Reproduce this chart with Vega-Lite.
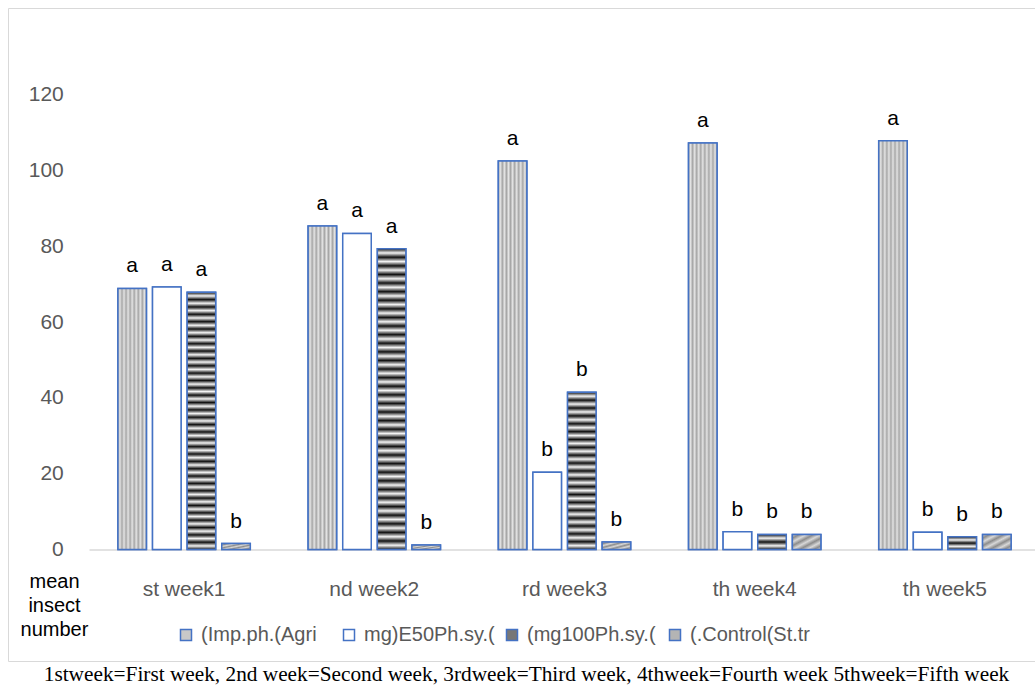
{
  "$schema": "https://vega.github.io/schema/vega-lite/v6.json",
  "width": 1027,
  "height": 653,
  "autosize": {"type": "none"},
  "padding": {"left": 8, "top": 8, "right": 0, "bottom": 27},
  "background": "white",
  "config": {
    "view": {"stroke": "#d9d9d9", "strokeWidth": 1},
    "font": "Liberation Sans"
  },
  "title": {
    "text": "1stweek=First week, 2nd week=Second week, 3rdweek=Third week, 4thweek=Fourth week 5thweek=Fifth week",
    "orient": "bottom",
    "anchor": "middle",
    "font": "Liberation Serif",
    "fontSize": 21.3,
    "fontWeight": "normal",
    "color": "#000000",
    "baseline": "top",
    "offset": 3,
    "dx": 5
  },
  "data": {
    "values": [
      {"week": "st week1", "series": "(Imp.ph.(Agri", "v": 68.9, "letter": "a"},
      {"week": "st week1", "series": "mg)E50Ph.sy.(", "v": 69.3, "letter": "a"},
      {"week": "st week1", "series": "(mg100Ph.sy.(", "v": 67.9, "letter": "a"},
      {"week": "st week1", "series": "(.Control(St.tr", "v": 1.6, "letter": "b"},
      {"week": "nd week2", "series": "(Imp.ph.(Agri", "v": 85.4, "letter": "a"},
      {"week": "nd week2", "series": "mg)E50Ph.sy.(", "v": 83.4, "letter": "a"},
      {"week": "nd week2", "series": "(mg100Ph.sy.(", "v": 79.4, "letter": "a"},
      {"week": "nd week2", "series": "(.Control(St.tr", "v": 1.2, "letter": "b"},
      {"week": "rd week3", "series": "(Imp.ph.(Agri", "v": 102.5, "letter": "a"},
      {"week": "rd week3", "series": "mg)E50Ph.sy.(", "v": 20.4, "letter": "b"},
      {"week": "rd week3", "series": "(mg100Ph.sy.(", "v": 41.5, "letter": "b"},
      {"week": "rd week3", "series": "(.Control(St.tr", "v": 2.0, "letter": "b"},
      {"week": "th week4", "series": "(Imp.ph.(Agri", "v": 107.3, "letter": "a"},
      {"week": "th week4", "series": "mg)E50Ph.sy.(", "v": 4.7, "letter": "b"},
      {"week": "th week4", "series": "(mg100Ph.sy.(", "v": 4.0, "letter": "b"},
      {"week": "th week4", "series": "(.Control(St.tr", "v": 4.0, "letter": "b"},
      {"week": "th week5", "series": "(Imp.ph.(Agri", "v": 107.9, "letter": "a"},
      {"week": "th week5", "series": "mg)E50Ph.sy.(", "v": 4.6, "letter": "b"},
      {"week": "th week5", "series": "(mg100Ph.sy.(", "v": 3.4, "letter": "b"},
      {"week": "th week5", "series": "(.Control(St.tr", "v": 4.0, "letter": "b"}
    ]
  },
  "encoding": {
    "x": {
      "field": "week",
      "type": "nominal",
      "sort": ["st week1", "nd week2", "rd week3", "th week4", "th week5"],
      "scale": {"range": [81, 1032], "paddingInner": 0.304, "paddingOuter": 0.152},
      "axis": {
        "title": null,
        "orient": "bottom",
        "offset": -111.5,
        "labelAngle": 0,
        "ticks": false,
        "domainColor": "#d9d9d9",
        "domainWidth": 1.5,
        "labelPadding": 29,
        "labelFontSize": 21,
        "labelColor": "#595959",
        "labelFont": "Liberation Sans"
      }
    },
    "xOffset": {
      "field": "series",
      "type": "nominal",
      "sort": ["(Imp.ph.(Agri", "mg)E50Ph.sy.(", "(mg100Ph.sy.(", "(.Control(St.tr"],
      "scale": {"paddingInner": 0.176, "paddingOuter": 0}
    },
    "y": {
      "field": "v",
      "type": "quantitative",
      "scale": {"domain": [-29.4, 142.9], "nice": false, "zero": false},
      "axis": {
        "orient": "left",
        "offset": -81,
        "domain": false,
        "ticks": false,
        "grid": false,
        "values": [0, 20, 40, 60, 80, 100, 120],
        "labelPadding": 25.7,
        "labelFontSize": 21,
        "labelColor": "#595959",
        "labelFont": "Liberation Sans",
        "title": ["mean", "insect", "number"],
        "titleAngle": 0,
        "titleAlign": "center",
        "titleBaseline": "top",
        "titleX": -35,
        "titleY": 563,
        "titleFont": "Liberation Sans",
        "titleFontSize": 20,
        "titleFontWeight": "normal",
        "titleColor": "#000000",
        "titleLineHeight": 24
      }
    }
  },
  "layer": [
    {
      "mark": {"type": "bar", "stroke": "#4472c4", "strokeWidth": 1.5},
      "encoding": {
        "color": {
          "field": "series",
          "type": "nominal",
          "sort": ["(Imp.ph.(Agri", "mg)E50Ph.sy.(", "(mg100Ph.sy.(", "(.Control(St.tr"],
          "scale": {
            "domain": ["(Imp.ph.(Agri", "mg)E50Ph.sy.(", "(mg100Ph.sy.(", "(.Control(St.tr"],
            "range": ["#c8c8c8", "#ffffff", "#777777", "#b4b4b4"]
          },
          "legend": {
            "title": null,
            "orient": "none",
            "legendX": 168,
            "legendY": 617,
            "direction": "horizontal",
            "columns": 4,
            "gridAlign": "all",
            "columnPadding": 7,
            "padding": 0,
            "symbolType": "square",
            "symbolSize": 121,
            "symbolStrokeColor": "#4472c4",
            "symbolStrokeWidth": 1.5,
            "labelFontSize": 20,
            "labelColor": "#595959",
            "labelFont": "Liberation Sans",
            "labelLimit": 0,
            "labelOffset": 5
          }
        }
      }
    },
    {
      "mark": {"type": "bar", "stroke": "#4472c4", "strokeWidth": 1.5},
      "encoding": {
        "fill": {
          "condition": [
            {
              "test": "datum.series === '(Imp.ph.(Agri'",
              "value": {
                "gradient": "linear", "x1": 0, "y1": 0, "x2": 1, "y2": 0,
                "stops": [
                  {"offset": 0, "color": "#a6a6a6"}, {"offset": 0.0714, "color": "#e4e4e4"},
                  {"offset": 0.1429, "color": "#a6a6a6"}, {"offset": 0.2143, "color": "#e4e4e4"},
                  {"offset": 0.2857, "color": "#a6a6a6"}, {"offset": 0.3571, "color": "#e4e4e4"},
                  {"offset": 0.4286, "color": "#a6a6a6"}, {"offset": 0.5, "color": "#e4e4e4"},
                  {"offset": 0.5714, "color": "#a6a6a6"}, {"offset": 0.6429, "color": "#e4e4e4"},
                  {"offset": 0.7143, "color": "#a6a6a6"}, {"offset": 0.7857, "color": "#e4e4e4"},
                  {"offset": 0.8571, "color": "#a6a6a6"}, {"offset": 0.9286, "color": "#e4e4e4"},
                  {"offset": 1, "color": "#a6a6a6"}
                ]
              }
            },
            {
              "test": "datum.series === '(mg100Ph.sy.(' && datum.v > 60",
              "value": {
                "gradient": "linear", "x1": 0, "y1": 0, "x2": 0, "y2": 1,
                "stops": [
                  {"offset": 0, "color": "#111111"}, {"offset": 0.0143, "color": "#f4f4f4"},
                  {"offset": 0.0286, "color": "#111111"}, {"offset": 0.0429, "color": "#f4f4f4"},
                  {"offset": 0.0571, "color": "#111111"}, {"offset": 0.0714, "color": "#f4f4f4"},
                  {"offset": 0.0857, "color": "#111111"}, {"offset": 0.1, "color": "#f4f4f4"},
                  {"offset": 0.1143, "color": "#111111"}, {"offset": 0.1286, "color": "#f4f4f4"},
                  {"offset": 0.1429, "color": "#111111"}, {"offset": 0.1571, "color": "#f4f4f4"},
                  {"offset": 0.1714, "color": "#111111"}, {"offset": 0.1857, "color": "#f4f4f4"},
                  {"offset": 0.2, "color": "#111111"}, {"offset": 0.2143, "color": "#f4f4f4"},
                  {"offset": 0.2286, "color": "#111111"}, {"offset": 0.2429, "color": "#f4f4f4"},
                  {"offset": 0.2571, "color": "#111111"}, {"offset": 0.2714, "color": "#f4f4f4"},
                  {"offset": 0.2857, "color": "#111111"}, {"offset": 0.3, "color": "#f4f4f4"},
                  {"offset": 0.3143, "color": "#111111"}, {"offset": 0.3286, "color": "#f4f4f4"},
                  {"offset": 0.3429, "color": "#111111"}, {"offset": 0.3571, "color": "#f4f4f4"},
                  {"offset": 0.3714, "color": "#111111"}, {"offset": 0.3857, "color": "#f4f4f4"},
                  {"offset": 0.4, "color": "#111111"}, {"offset": 0.4143, "color": "#f4f4f4"},
                  {"offset": 0.4286, "color": "#111111"}, {"offset": 0.4429, "color": "#f4f4f4"},
                  {"offset": 0.4571, "color": "#111111"}, {"offset": 0.4714, "color": "#f4f4f4"},
                  {"offset": 0.4857, "color": "#111111"}, {"offset": 0.5, "color": "#f4f4f4"},
                  {"offset": 0.5143, "color": "#111111"}, {"offset": 0.5286, "color": "#f4f4f4"},
                  {"offset": 0.5429, "color": "#111111"}, {"offset": 0.5571, "color": "#f4f4f4"},
                  {"offset": 0.5714, "color": "#111111"}, {"offset": 0.5857, "color": "#f4f4f4"},
                  {"offset": 0.6, "color": "#111111"}, {"offset": 0.6143, "color": "#f4f4f4"},
                  {"offset": 0.6286, "color": "#111111"}, {"offset": 0.6429, "color": "#f4f4f4"},
                  {"offset": 0.6571, "color": "#111111"}, {"offset": 0.6714, "color": "#f4f4f4"},
                  {"offset": 0.6857, "color": "#111111"}, {"offset": 0.7, "color": "#f4f4f4"},
                  {"offset": 0.7143, "color": "#111111"}, {"offset": 0.7286, "color": "#f4f4f4"},
                  {"offset": 0.7429, "color": "#111111"}, {"offset": 0.7571, "color": "#f4f4f4"},
                  {"offset": 0.7714, "color": "#111111"}, {"offset": 0.7857, "color": "#f4f4f4"},
                  {"offset": 0.8, "color": "#111111"}, {"offset": 0.8143, "color": "#f4f4f4"},
                  {"offset": 0.8286, "color": "#111111"}, {"offset": 0.8429, "color": "#f4f4f4"},
                  {"offset": 0.8571, "color": "#111111"}, {"offset": 0.8714, "color": "#f4f4f4"},
                  {"offset": 0.8857, "color": "#111111"}, {"offset": 0.9, "color": "#f4f4f4"},
                  {"offset": 0.9143, "color": "#111111"}, {"offset": 0.9286, "color": "#f4f4f4"},
                  {"offset": 0.9429, "color": "#111111"}, {"offset": 0.9571, "color": "#f4f4f4"},
                  {"offset": 0.9714, "color": "#111111"}, {"offset": 0.9857, "color": "#f4f4f4"},
                  {"offset": 1, "color": "#111111"}
                ]
              }
            },
            {
              "test": "datum.series === '(mg100Ph.sy.(' && datum.v > 20",
              "value": {
                "gradient": "linear", "x1": 0, "y1": 0, "x2": 0, "y2": 1,
                "stops": [
                  {"offset": 0, "color": "#111111"}, {"offset": 0.025, "color": "#f4f4f4"},
                  {"offset": 0.05, "color": "#111111"}, {"offset": 0.075, "color": "#f4f4f4"},
                  {"offset": 0.1, "color": "#111111"}, {"offset": 0.125, "color": "#f4f4f4"},
                  {"offset": 0.15, "color": "#111111"}, {"offset": 0.175, "color": "#f4f4f4"},
                  {"offset": 0.2, "color": "#111111"}, {"offset": 0.225, "color": "#f4f4f4"},
                  {"offset": 0.25, "color": "#111111"}, {"offset": 0.275, "color": "#f4f4f4"},
                  {"offset": 0.3, "color": "#111111"}, {"offset": 0.325, "color": "#f4f4f4"},
                  {"offset": 0.35, "color": "#111111"}, {"offset": 0.375, "color": "#f4f4f4"},
                  {"offset": 0.4, "color": "#111111"}, {"offset": 0.425, "color": "#f4f4f4"},
                  {"offset": 0.45, "color": "#111111"}, {"offset": 0.475, "color": "#f4f4f4"},
                  {"offset": 0.5, "color": "#111111"}, {"offset": 0.525, "color": "#f4f4f4"},
                  {"offset": 0.55, "color": "#111111"}, {"offset": 0.575, "color": "#f4f4f4"},
                  {"offset": 0.6, "color": "#111111"}, {"offset": 0.625, "color": "#f4f4f4"},
                  {"offset": 0.65, "color": "#111111"}, {"offset": 0.675, "color": "#f4f4f4"},
                  {"offset": 0.7, "color": "#111111"}, {"offset": 0.725, "color": "#f4f4f4"},
                  {"offset": 0.75, "color": "#111111"}, {"offset": 0.775, "color": "#f4f4f4"},
                  {"offset": 0.8, "color": "#111111"}, {"offset": 0.825, "color": "#f4f4f4"},
                  {"offset": 0.85, "color": "#111111"}, {"offset": 0.875, "color": "#f4f4f4"},
                  {"offset": 0.9, "color": "#111111"}, {"offset": 0.925, "color": "#f4f4f4"},
                  {"offset": 0.95, "color": "#111111"}, {"offset": 0.975, "color": "#f4f4f4"},
                  {"offset": 1, "color": "#111111"}
                ]
              }
            },
            {
              "test": "datum.series === '(mg100Ph.sy.('",
              "value": {
                "gradient": "linear", "x1": 0, "y1": 0, "x2": 0, "y2": 1,
                "stops": [
                  {"offset": 0, "color": "#111111"}, {"offset": 0.25, "color": "#f4f4f4"},
                  {"offset": 0.5, "color": "#111111"}, {"offset": 0.75, "color": "#f4f4f4"},
                  {"offset": 1, "color": "#111111"}
                ]
              }
            },
            {
              "test": "datum.series === '(.Control(St.tr'",
              "value": {
                "gradient": "linear", "x1": 0, "y1": 0, "x2": 1, "y2": 1,
                "stops": [
                  {"offset": 0, "color": "#d8d8d8"}, {"offset": 0.125, "color": "#8c8c8c"},
                  {"offset": 0.25, "color": "#d8d8d8"}, {"offset": 0.375, "color": "#8c8c8c"},
                  {"offset": 0.5, "color": "#d8d8d8"}, {"offset": 0.625, "color": "#8c8c8c"},
                  {"offset": 0.75, "color": "#d8d8d8"}, {"offset": 0.875, "color": "#8c8c8c"},
                  {"offset": 1, "color": "#d8d8d8"}
                ]
              }
            }
          ],
          "value": "#ffffff"
        }
      }
    },
    {
      "mark": {
        "type": "text",
        "baseline": "alphabetic",
        "align": "center",
        "dy": -16,
        "fontSize": 21,
        "font": "Liberation Sans",
        "color": "#000000"
      },
      "encoding": {
        "text": {"field": "letter"}
      }
    }
  ]
}
